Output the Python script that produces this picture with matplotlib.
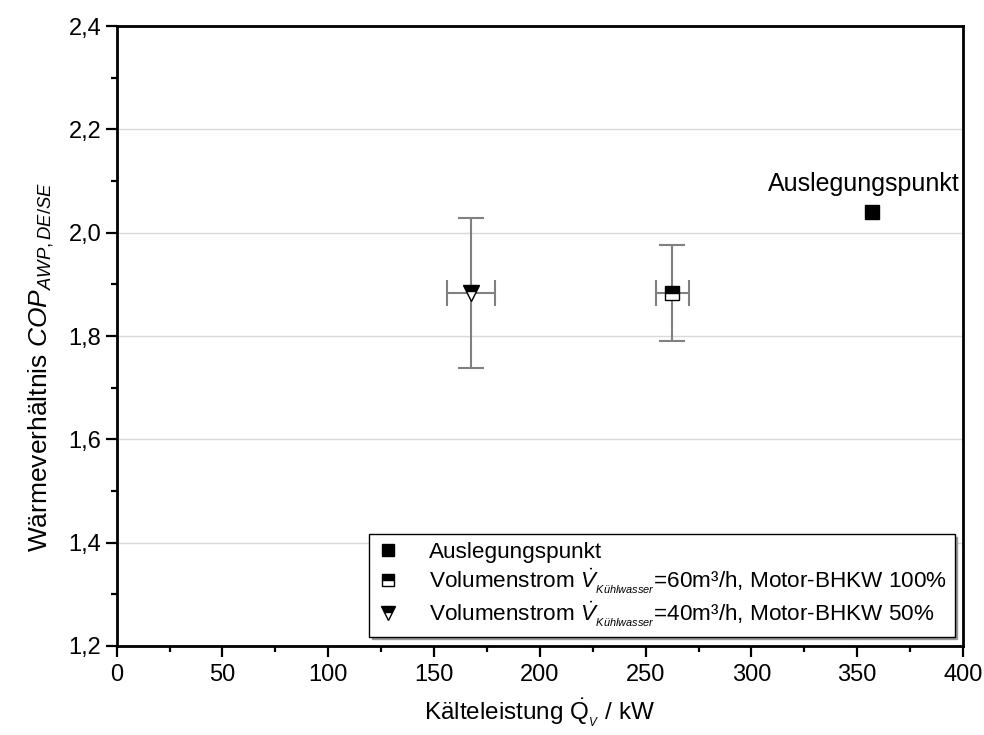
import matplotlib
matplotlib.use("Agg")
import matplotlib.pyplot as plt
from matplotlib.ticker import MultipleLocator, FuncFormatter

plt.rcParams["font.family"] = ["Liberation Sans", "DejaVu Sans"]
plt.rcParams["mathtext.fontset"] = "custom"
plt.rcParams["mathtext.rm"] = "Liberation Sans"
plt.rcParams["mathtext.it"] = "Liberation Sans:italic"
plt.rcParams["mathtext.bf"] = "Liberation Sans:bold"

# data
design_x = [357]
design_y = [2.04]

v60_x = [262.5]
v60_y = [1.883]
v60_xerr = [7.8]
v60_yerr = [0.093]

v40_x = [167.5]
v40_y = [1.884]
v40_xerr = [11.2]
v40_yerr = [0.145]

labels = [
    "Auslegungspunkt",
    r"Volumenstrom $\dot{V}_{{}_{\mathit{Kühlwasser}}}$=60m³/h, Motor-BHKW 100%",
    r"Volumenstrom $\dot{V}_{{}_{\mathit{Kühlwasser}}}$=40m³/h, Motor-BHKW 50%",
]

fig = plt.figure(figsize=(9.84, 7.35), dpi=100)
ax = fig.add_axes([0.1186, 0.1211, 0.8601, 0.8435])

err_kw = dict(fmt="none", ecolor="#808080", elinewidth=1.5, capsize=9.5, capthick=1.5, zorder=2)
ax.errorbar(v60_x, v60_y, xerr=v60_xerr, yerr=v60_yerr, **err_kw)
ax.errorbar(v40_x, v40_y, xerr=v40_xerr, yerr=v40_yerr, **err_kw)

ax.plot(design_x, design_y, ls="none", marker="s", ms=9.5, mfc="black", mec="black",
        label=labels[0], zorder=3)
ax.plot(v60_x, v60_y, ls="none", marker="s", ms=9.5, fillstyle="top", mfc="black",
        mfcalt="white", mec="black", mew=1.0, label=labels[1], zorder=3)
ax.plot(v40_x, v40_y, ls="none", marker="v", ms=12, fillstyle="top", mfc="black",
        mfcalt="white", mec="black", mew=1.0, label=labels[2], zorder=3)

ax.text(353, 2.094, "Auslegungspunkt", ha="center", va="center", fontsize=18)

ax.set_xlim(0, 400)
ax.set_ylim(1.2, 2.4)
ax.xaxis.set_major_locator(MultipleLocator(50))
ax.xaxis.set_minor_locator(MultipleLocator(25))
ax.yaxis.set_major_locator(MultipleLocator(0.2))
ax.yaxis.set_minor_locator(MultipleLocator(0.1))
ax.yaxis.set_major_formatter(FuncFormatter(lambda v, p: f"{v:.1f}".replace(".", ",")))
ax.tick_params(which="both", direction="out", top=False, right=False, labelsize=17, width=1.6)
ax.tick_params(which="major", length=8)
ax.tick_params(which="minor", length=4.5)
ax.tick_params(axis="x", pad=5)
ax.tick_params(axis="y", pad=3)
for s in ax.spines.values():
    s.set_linewidth(2)

ax.grid(axis="y", which="major", color="#d9d9d9", lw=1)
ax.set_axisbelow(True)

ax.set_xlabel(r"Kälteleistung $\dot{\mathrm{Q}}_{{}_{V}}$ / kW", fontsize=17.5, labelpad=8)
ax.set_ylabel(r"Wärmeverhältnis $COP_{AWP,DE/SE}$", fontsize=19)
ax.yaxis.set_label_coords(-0.072, 0.45)

leg = ax.legend(loc="lower right", bbox_to_anchor=(0.99, 0.015), borderaxespad=0,
                fontsize=16.2, frameon=True, fancybox=False, edgecolor="black",
                markerscale=0.85, handlelength=1.0, handletextpad=1.3,
                borderpad=0.35, labelspacing=0.15,
                shadow={"ox": 2, "oy": -2, "color": "#999999", "alpha": 1})
leg.get_frame().set_linewidth(1.0)

fig.savefig("out.png", dpi=100)
